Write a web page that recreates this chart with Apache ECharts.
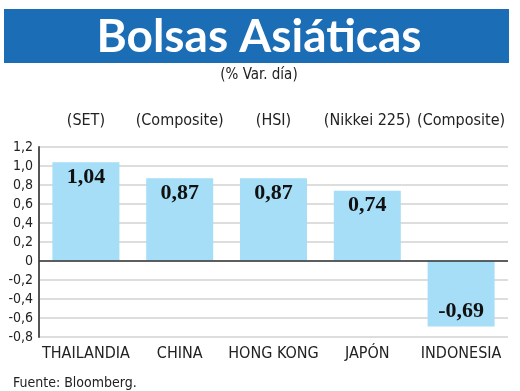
<!DOCTYPE html>
<html><head><meta charset="utf-8">
<script src="https://cdn.jsdelivr.net/npm/echarts@6/dist/echarts.min.js"></script>
<style>html,body{margin:0;padding:0;background:#fff}#c{width:520px;height:391px}</style>
</head><body><div id="c"></div>
<script>
const countries = ['THAILANDIA', 'CHINA', 'HONG KONG', 'JAPÓN', 'INDONESIA'];
const indices = ['(SET)', '(Composite)', '(HSI)', '(Nikkei 225)', '(Composite)'];
const values = [1.04, 0.87, 0.87, 0.74, -0.69];
const titleText = 'Bolsas Asiáticas';
const subtitleText = '(% Var. día)';
const sourceText = 'Fuente: Bloomberg.';

const condensed = "'Liberation Sans Narrow','DejaVu Sans Condensed','Roboto Condensed','Open Sans',sans-serif";
const fmt = v => v === 0 ? '0' : v.toFixed(1).replace('.', ',');

const chart = echarts.init(document.getElementById('c'), null, {renderer: 'canvas'});
chart.setOption({
  animation: false,
  backgroundColor: '#fff',
  grid: {left: 39, right: 12, top: 147, bottom: 54},
  graphic: [
    {type: 'rect', shape: {x: 4, y: 9, width: 505, height: 54}, style: {fill: '#1b6db5'}},
    {type: 'text', x: 259, y: 37, style: {text: titleText, fill: '#fff', font: "bold 46px Lato, 'Open Sans', sans-serif", textAlign: 'center', textVerticalAlign: 'middle'}},
    {type: 'text', x: 259, y: 75, style: {text: subtitleText, fill: '#222', font: "15px " + condensed, textAlign: 'center', textVerticalAlign: 'middle'}},
    {type: 'text', x: 13, y: 383, style: {text: sourceText, fill: '#222', font: "14px " + condensed, textAlign: 'left', textVerticalAlign: 'middle'}}
  ],
  xAxis: [
    {type: 'category', data: countries, position: 'bottom',
     axisLine: {show: false, onZero: false}, axisTick: {show: false},
     axisLabel: {interval: 0, color: '#222', fontSize: 16, fontFamily: condensed, margin: 9}},
    {type: 'category', data: indices, position: 'top',
     axisLine: {show: false}, axisTick: {show: false},
     axisLabel: {interval: 0, color: '#222', fontSize: 16, fontFamily: condensed, margin: 18}}
  ],
  yAxis: {type: 'value', min: -0.8, max: 1.2, interval: 0.2,
    axisLine: {show: true, lineStyle: {color: '#555', width: 2}},
    axisTick: {show: false},
    splitLine: {lineStyle: {color: '#d2d2d2', width: 1.5}},
    axisLabel: {formatter: fmt, color: '#222', fontSize: 14, fontFamily: condensed, margin: 6}},
  series: [{
    type: 'bar', data: values.map(v => v < 0 ? {value: v, label: {position: 'insideBottom'}} : v),
    barWidth: 67, xAxisIndex: 0,
    itemStyle: {color: '#a5def6'},
    label: {show: true, formatter: p => p.value.toFixed(2).replace('.', ','),
      position: 'insideTop', distance: 4,
      color: '#111', fontSize: 22, fontWeight: 'bold', fontFamily: "'Liberation Serif','DejaVu Serif',serif"},
    markLine: {silent: true, symbol: 'none', label: {show: false},
      lineStyle: {color: '#333', width: 1.5, type: 'solid'}, data: [{yAxis: 0}]}
  }]
});
</script></body></html>
